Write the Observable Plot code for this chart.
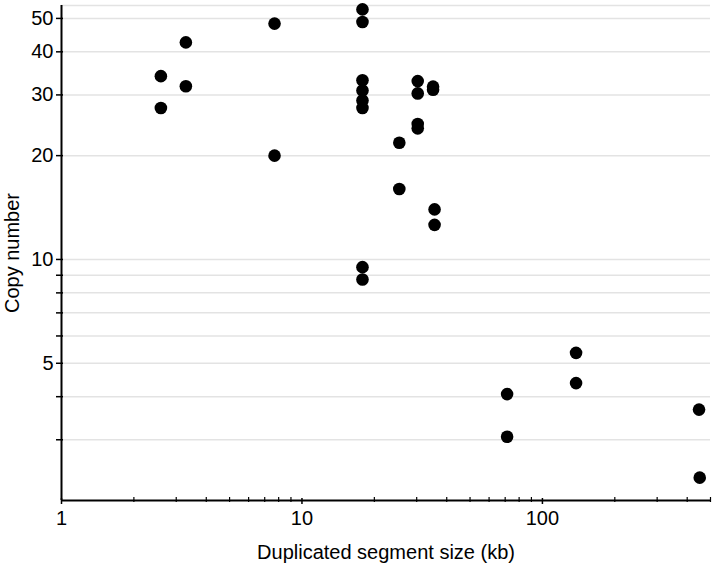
<!DOCTYPE html>
<html>
<head>
<meta charset="utf-8">
<script src="https://cdn.jsdelivr.net/npm/d3@7"></script>
<script src="https://cdn.jsdelivr.net/npm/@observablehq/plot@0.6"></script>
<style>
  html, body { margin: 0; padding: 0; background: #fff; }
  #chart svg { display: block; }
</style>
</head>
<body>
<div id="chart"></div>
<script>
// Duplicated segment size (kb) and copy number per segment
const segmentSize = [
  2.59, 2.59, 3.29, 3.29, 7.69, 7.69,
  17.85, 17.85, 17.85, 17.85, 17.85, 17.85, 17.85, 17.85,
  25.4, 25.4,
  30.3, 30.3, 30.3, 30.3,
  35.1, 35.1, 35.6, 35.6,
  71.3, 71.3, 138, 138, 448, 451
];
const copyNumber = [
  34.0, 27.5, 42.6, 31.8, 48.3, 20.0,
  53.1, 48.8, 33.1, 30.9, 28.9, 27.5, 9.5, 8.75,
  21.8, 16.0,
  32.9, 30.3, 24.7, 24.0,
  31.7, 31.06, 13.97, 12.6,
  4.07, 3.06, 5.36, 4.38, 3.67, 2.33
];

// Axis ticks
const xDomain = [1, 500];
const yDomain = [2, 54.5];
const xMajorTicks = [1, 10, 100];
const xMinorTicks = [2, 3, 4, 5, 6, 7, 8, 9, 20, 30, 40, 50, 60, 70, 80, 90, 200, 300, 400, 500];
const yTicks = [3, 4, 5, 6, 7, 8, 9, 10, 20, 30, 40, 50];
const yLabeledTicks = [5, 10, 20, 30, 40, 50];

const points = segmentSize.map((s, i) => ({size: s, copies: copyNumber[i]}));

const chart = Plot.plot({
  width: 716,
  height: 564,
  marginLeft: 61,
  marginRight: 6,
  marginTop: 5,
  marginBottom: 64,
  style: {fontFamily: "'Liberation Sans', Arial, sans-serif", fontSize: "20px", color: "#000", background: "#fff"},
  x: {type: "log", domain: xDomain},
  y: {type: "log", domain: yDomain},
  marks: [
    Plot.gridY(yTicks, {stroke: "#e3e3e3", strokeOpacity: 1, strokeWidth: 1.5}),
    Plot.gridY([yDomain[1]], {stroke: "#e3e3e3", strokeOpacity: 1, strokeWidth: 1.5}),
    Plot.axisY(yTicks, {
      tickSize: 7,
      tickPadding: 3,
      strokeWidth: 1.5,
      dx: 2,
      tickFormat: d => yLabeledTicks.includes(d) ? String(d) : "",
      fontSize: 20,
      label: "Copy number",
      labelAnchor: "center",
      labelArrow: "none",
      labelOffset: 57
    }),
    Plot.axisX(xMinorTicks, {tickSize: 5, dy: -3, strokeWidth: 1.2, tickFormat: () => "", label: null}),
    Plot.axisX(xMajorTicks, {
      tickSize: 6,
      dy: -2,
      tickPadding: 6,
      strokeWidth: 1.5,
      fontSize: 20,
      label: "Duplicated segment size (kb)",
      labelAnchor: "center",
      labelArrow: "none",
      labelOffset: 58
    }),
    Plot.ruleX([xDomain[0]], {stroke: "#000", strokeWidth: 2}),
    Plot.ruleY([yDomain[0]], {stroke: "#000", strokeWidth: 2}),
    Plot.dot(points, {x: "size", y: "copies", r: 6.3, fill: "#000", stroke: "none"})
  ]
});

document.getElementById("chart").appendChild(chart);
</script>
</body>
</html>
